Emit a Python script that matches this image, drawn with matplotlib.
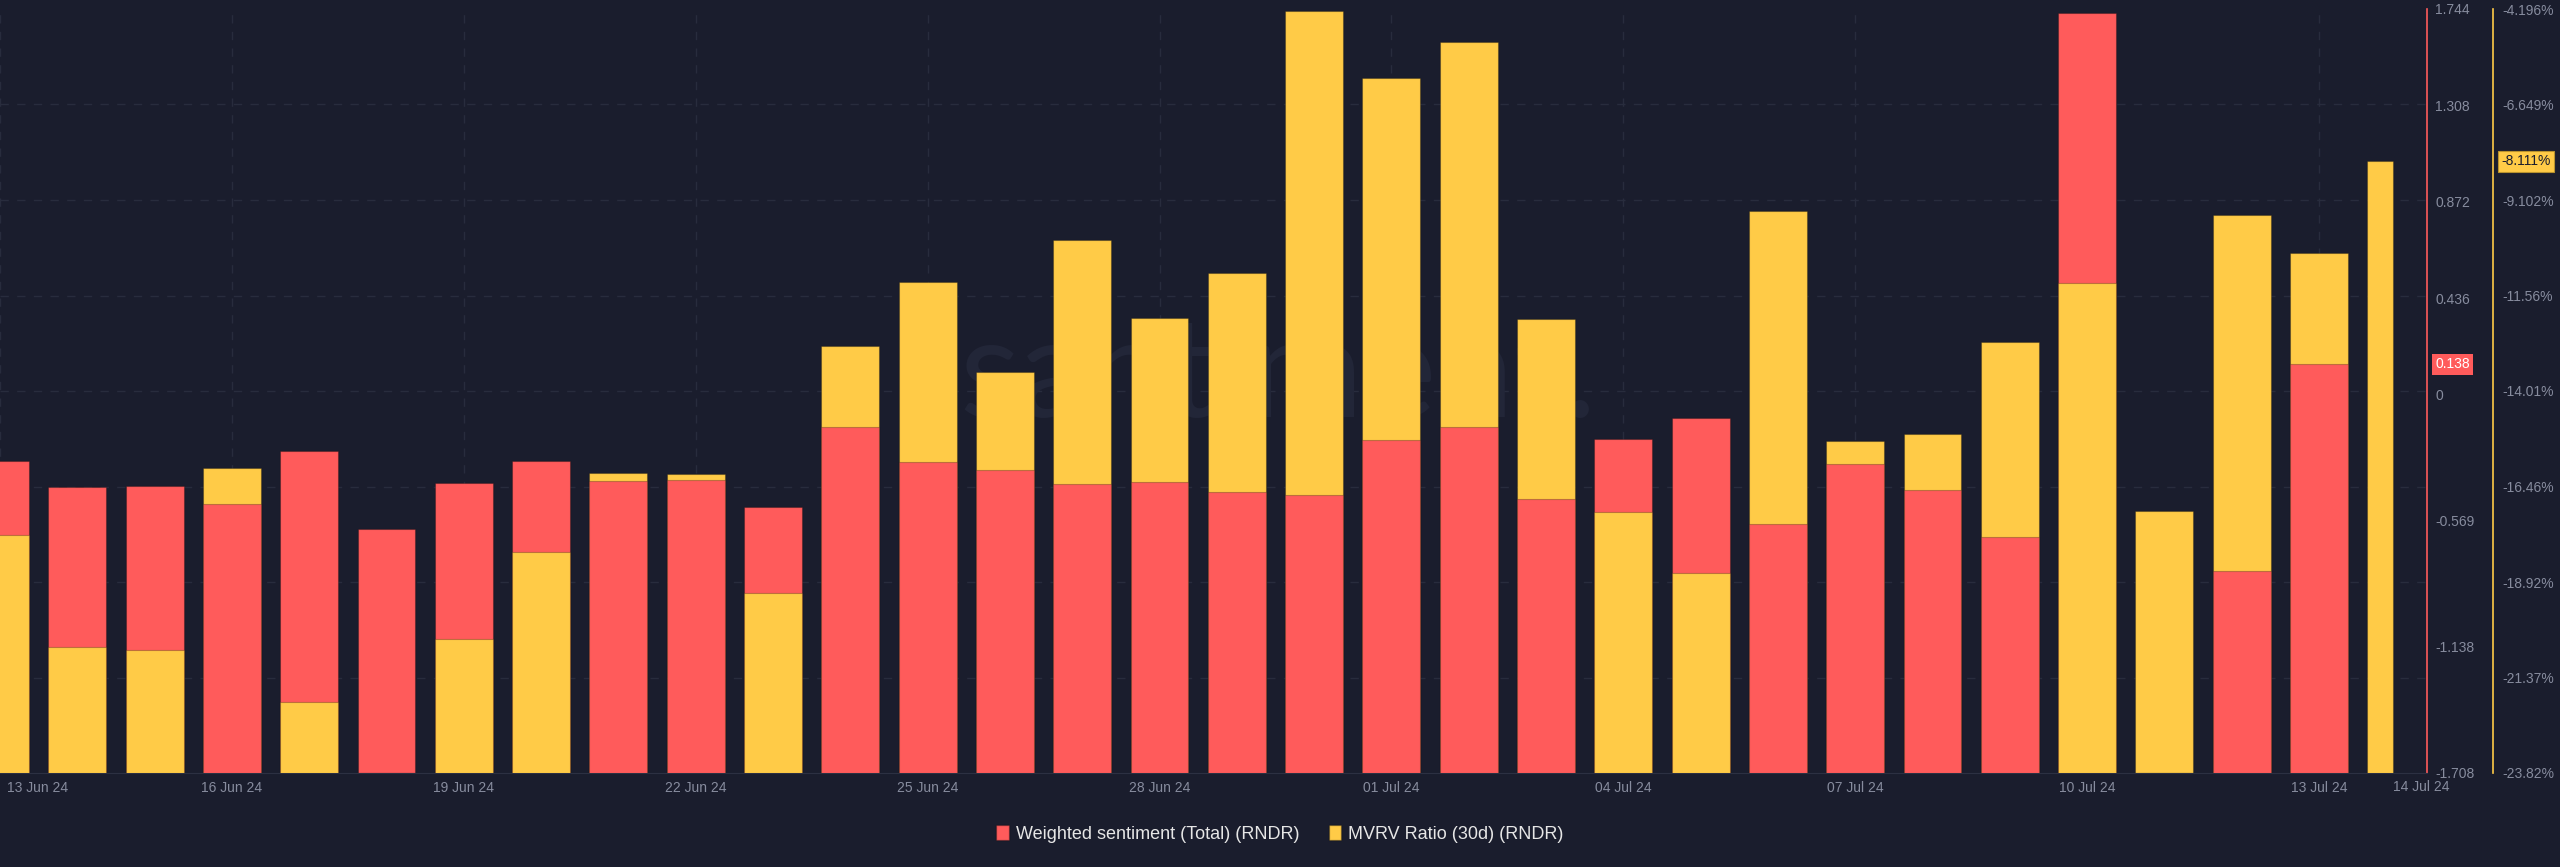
import numpy as np
import pandas as pd
import matplotlib
matplotlib.use("Agg")
import matplotlib.pyplot as plt
import matplotlib.transforms as mtransforms
from matplotlib.patches import Patch

plt.rcParams['font.family'] = ['Liberation Sans', 'DejaVu Sans']

# dias (13 Jun 24 -> 14 Jul 24)
fechas = pd.date_range("2024-06-13", "2024-07-14", freq="D")
etiquetas = [f.strftime("%d %b %y") for f in fechas]

# Weighted sentiment (Total) (RNDR)
sentiment = [-0.298, -0.416, -0.411, -0.493, -0.251, -0.606, -0.398, -0.298,
             -0.389, -0.384, -0.506, -0.145, -0.303, -0.339, -0.402, -0.393,
             -0.439, -0.452, -0.204, -0.145, -0.470, -0.199, -0.104, -0.583,
             -0.312, -0.430, -0.642, 1.727, -1.708, -0.796, 0.138, np.nan]

# MVRV Ratio (30d) (RNDR), en %
mvrv = [-17.71, -20.58, -20.66, -15.99, -22.00, -23.82, -20.38, -18.14,
        -16.11, -16.14, -19.20, -12.85, -11.21, -13.52, -10.13, -12.13,
        -10.98, -4.24, -5.96, -5.04, -12.16, -17.12, -18.68, -9.38,
        -15.28, -15.12, -12.76, -11.23, -17.09, -9.49, -10.47, -8.111]

rango_sent = (-1.708, 1.744)
rango_mvrv = (-23.82, -4.196)
ticks_sent = [1.744, 1.308, 0.872, 0.436, 0, -0.569, -1.138, -1.708]
labels_sent = ["1.744", "1.308", "0.872", "0.436", "0", "-0.569", "-1.138", "-1.708"]
labels_mvrv = ["-23.82%", "-21.37%", "-18.92%", "-16.46%", "-14.01%",
               "-11.56%", "-9.102%", "-6.649%", "-4.196%"]

FONDO = "#1a1d2d"
ROJO = "#ff5b5b"
AMARILLO = "#ffcb47"
GRIS = "#878c9e"
GRID = "#282c3d"

W, H = 2560, 867
fig = plt.figure(figsize=(W / 100, H / 100), dpi=100, facecolor=FONDO)
ax = fig.add_axes([0, 94 / H, 2427 / W, 764 / H])
ax.set_facecolor(FONDO)
ax2 = ax.twinx()

paso = 77.3  # px por dia
fin_datos = 2393 / paso
ax.set_xlim(0, 2427 / paso)
ax.set_ylim(*rango_sent)
ax2.set_ylim(*rango_mvrv)

sent = np.array(sentiment, dtype=float)
mv = np.array(mvrv, dtype=float)
x = np.arange(len(fechas))
ancho = np.full(len(x), 0.75)
ancho[-1] = fin_datos - (x[-1] - 0.375)
izq = x - 0.375

borde = (0, 0, 0, 0.25)
ok = ~np.isnan(sent)
barras_r = ax.bar(izq[ok], sent[ok] - rango_sent[0], width=ancho[ok], bottom=rango_sent[0],
                  align="edge", color=ROJO, edgecolor=borde, linewidth=0.8)
barras_y = ax.bar(izq, mv - rango_mvrv[0], width=ancho, bottom=rango_mvrv[0],
                  align="edge", color=AMARILLO, edgecolor=borde, linewidth=0.8,
                  transform=ax2.transData)
ax.set_xlim(0, 2427 / paso)
ax.set_ylim(*rango_sent)
ax2.set_ylim(*rango_mvrv)

# la barra mas baja va delante
frac_r = (sent - rango_sent[0]) / (rango_sent[1] - rango_sent[0])
frac_y = (mv - rango_mvrv[0]) / (rango_mvrv[1] - rango_mvrv[0])
for b, i in zip(barras_r, x[ok]):
    b.set_zorder(3 if frac_r[i] <= frac_y[i] else 2)
for b, i in zip(barras_y, x):
    b.set_zorder(2 if (ok[i] and frac_r[i] <= frac_y[i]) else 3)

# rejilla
ax.set_axisbelow(True)
ax.set_yticks(np.linspace(rango_sent[0], rango_sent[1], 9), minor=True)
ax.grid(which="minor", axis="y", color=GRID, linestyle=(0, (6, 6)), linewidth=1)
ax.set_xticks(x[:31:3])
ax.set_xticklabels(etiquetas[:31:3])
ax.grid(which="major", axis="x", color=GRID, linestyle=(0, (6, 6)), linewidth=1)

ax.tick_params(axis="x", length=0, pad=6, colors=GRIS, labelsize=10)
primera = ax.get_xticklabels()[0]
primera.set_ha("left")
primera.set_transform(primera.get_transform() +
                      mtransforms.ScaledTranslation(7 / 100, 0, fig.dpi_scale_trans))
ax.text(fin_datos, -14 / 764, etiquetas[-1], transform=ax.get_xaxis_transform(),
        ha="left", va="center", color=GRIS, fontsize=10)

# ejes de la derecha
ax.yaxis.tick_right()
ax.set_yticks(ticks_sent)
ax.set_yticklabels(labels_sent)
ax.tick_params(axis="y", which="both", length=0, pad=8 * 0.72, colors=GRIS, labelsize=10)
ax2.set_yticks(np.linspace(rango_mvrv[0], rango_mvrv[1], 9))
ax2.set_yticklabels(labels_mvrv)
ax2.tick_params(axis="y", length=0, pad=9 * 0.72, colors=GRIS, labelsize=10)

for s in ["top", "left"]:
    ax.spines[s].set_visible(False)
    ax2.spines[s].set_visible(False)
ax.spines["bottom"].set_color("#2c3042")
ax2.spines["bottom"].set_visible(False)
ax.spines["right"].set_color(ROJO)
ax.spines["right"].set_linewidth(1.2)
ax2.spines["right"].set_color(AMARILLO)
ax2.spines["right"].set_linewidth(1.2)
ax2.spines["right"].set_position(("outward", 66 * 0.72))

# etiquetas del ultimo valor
ax.annotate(f"{sent[ok][-1]:.3f}", xy=(1, sent[ok][-1]), xycoords=("axes fraction", "data"),
            xytext=(8, 0), textcoords="offset pixels", ha="left", va="center",
            color="white", fontsize=10,
            bbox=dict(boxstyle="square,pad=0.25", fc=ROJO, ec="none"))
ax2.annotate(f"{mv[-1]:.3f}%", xy=(1, mv[-1]), xycoords=("axes fraction", "data"),
             xytext=(74, 0), textcoords="offset pixels", ha="left", va="center",
             color="#1a1d2d", fontsize=10,
             bbox=dict(boxstyle="square,pad=0.25", fc=AMARILLO, ec="#b8922e", lw=0.8))

# marca de agua
ax.text(1278 / 2427, 1 - (378 - 9) / 764, "santiment.", transform=ax.transAxes,
        ha="center", va="center", fontsize=100, family="Lato", color="#222638", zorder=1)

fig.legend(handles=[Patch(facecolor=ROJO, edgecolor=borde, label="Weighted sentiment (Total) (RNDR)"),
                    Patch(facecolor=AMARILLO, edgecolor=borde, label="MVRV Ratio (30d) (RNDR)")],
           loc="center", bbox_to_anchor=(0.5, 1 - 834 / H), ncol=2, frameon=False,
           fontsize=13, labelcolor="#e6e6e6", handlelength=0.7, handleheight=0.9,
           handletextpad=0.4, columnspacing=1.6)

fig.savefig("out.png", dpi=100, facecolor=FONDO)
